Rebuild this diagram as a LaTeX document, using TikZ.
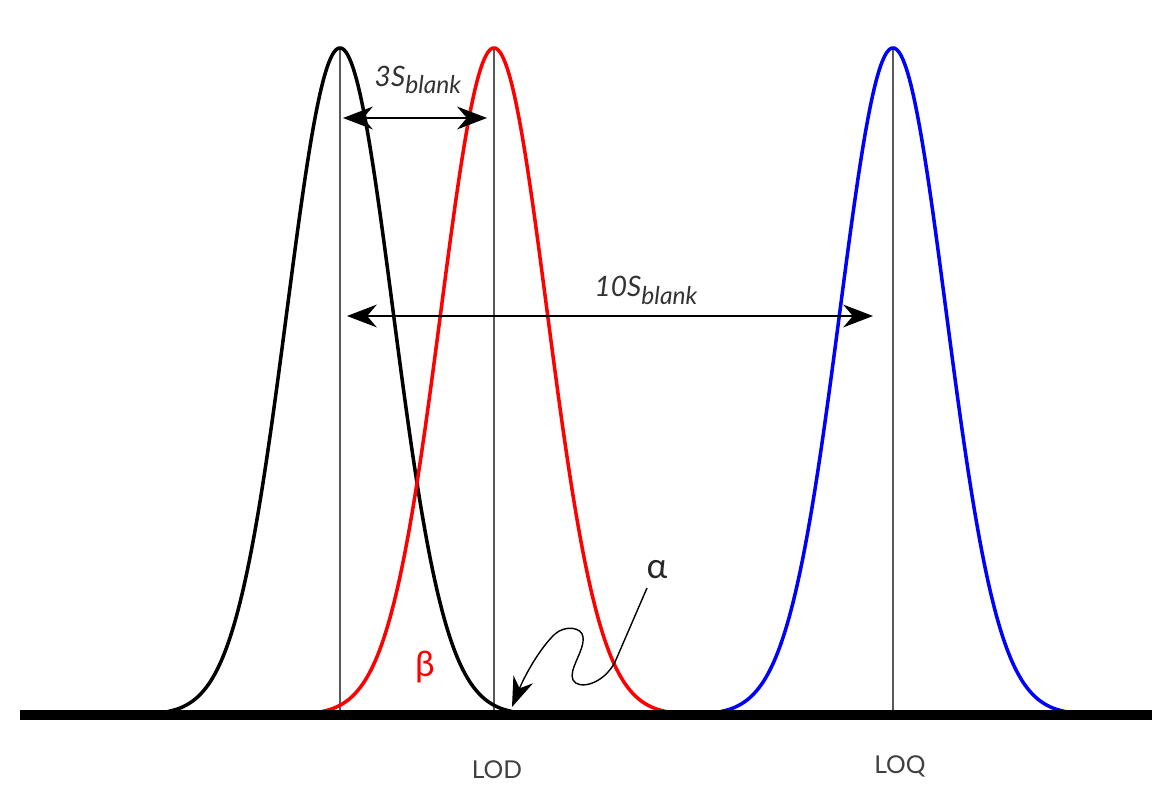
\documentclass[tikz,border=0pt]{standalone}
\usepackage{fontspec}
\setmainfont{Lato}
\usetikzlibrary{arrows.meta}

\newcommand{\sblank}[1]{\textit{#1S}\raisebox{-0.55ex}{\fontsize{14}{15}\selectfont\textit{blank}}}

\begin{document}
\begin{tikzpicture}[
  x=0.02cm, y=-0.02cm,
  declare function={gauss(\x,\m)=715-667*exp(-(((\x-\m)/74.95)^2));},
  bell/.style={line width=2pt, samples=150, smooth},
  centre/.style={black!65, line width=0.8pt},
  axisline/.style={line width=5.5pt},
  span/.style={{Stealth[length=17pt,width=13pt]}-{Stealth[length=17pt,width=13pt]}, line width=0.8pt},
  wiggle/.style={-{Stealth[length=17pt,width=12pt]}, line width=0.8pt},
  lbl/.style={font=\fontsize{14}{16}\selectfont, text=black!75},
  spanlbl/.style={font=\fontsize{16}{18}\selectfont, text=black!80},
  sym/.style={font=\fontsize{20}{22}\selectfont}
]
\useasboundingbox (0,0) rectangle (1160,803);
% ── Centre lines ──
\foreach \m in {340,494,893}
  \draw[centre] (\m,715) -- (\m,48);
% ── Distributions ──
\draw[bell, black] plot[domain=160:520] (\x,{gauss(\x,340)});
\draw[bell, red]   plot[domain=314:674] (\x,{gauss(\x,494)});
\draw[bell, blue]  plot[domain=713:1073] (\x,{gauss(\x,893)});
% ── Axis ──
\draw[axisline] (20,715) -- (1152,715);
% ── Labels ──
\node[lbl] (lod) at (497,770) {LOD};
\node[lbl] (loq) at (900,766) {LOQ};
\node[sym, text=red] (beta) at (425,667) {β};
\node[sym, text=black!85] (alpha) at (657,570) {α};
\node[spanlbl] (s3) at (418,80) {\sblank{3}};
\node[spanlbl] (s10) at (646,290) {\sblank{10}};
% ── Span arrows ──
\coordinate (s3l) at (343,118);
\coordinate (s3r) at (487,118);
\coordinate (s10l) at (347,316);
\coordinate (s10r) at (873,316);
\draw[span] (s3l) -- (s3r);
\draw[span] (s10l) -- (s10r);
% ── Alpha pointer ──
\coordinate (a0) at (647,588);
\coordinate (a1) at (512,707);
\draw[wiggle] (a0) -- (615,662) .. controls (603,685) and (578,690) .. (573,680)
  .. controls (568,670) and (585,650) .. (583,637)
  .. controls (582,627) and (565,625) .. (555,634)
  .. controls (540,648) and (525,675) .. (a1);
\end{tikzpicture}
\end{document}
